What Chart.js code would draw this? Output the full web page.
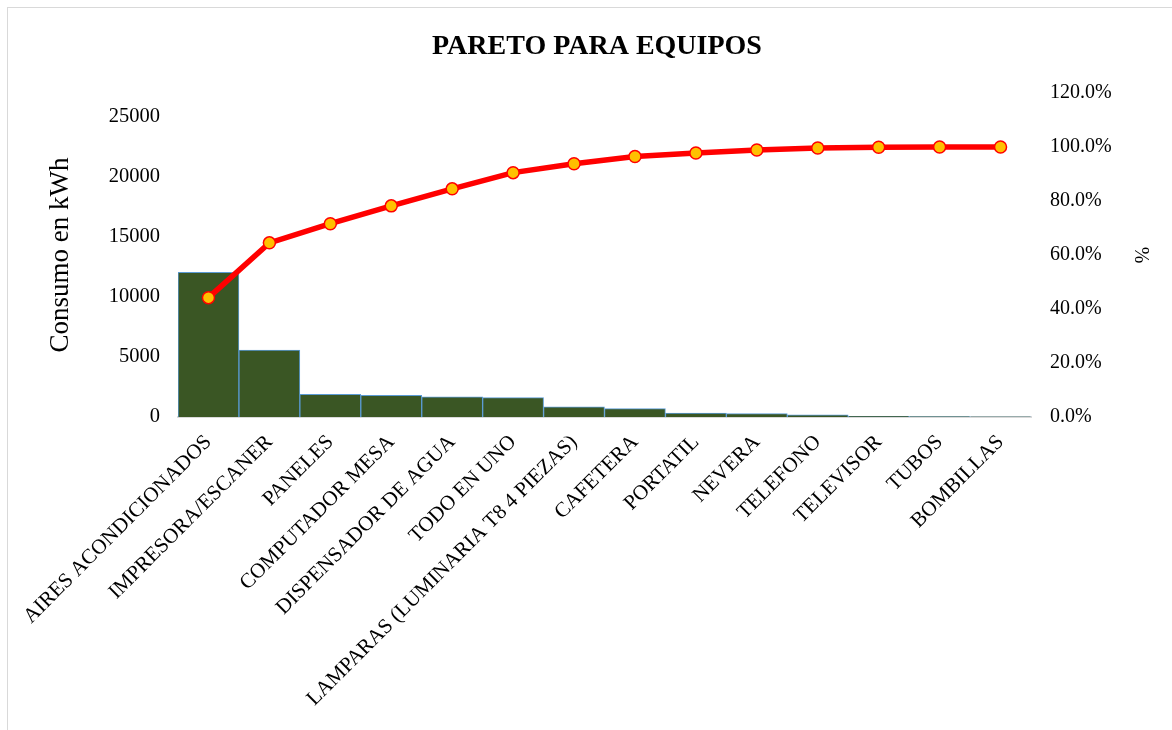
<!DOCTYPE html>
<html>
<head>
<meta charset="utf-8">
<script src="https://cdn.jsdelivr.net/npm/chart.js@4.4.1/dist/chart.umd.min.js"></script>
<style>
  html, body { margin: 0; padding: 0; background: #ffffff; overflow: hidden; }
  #wrap { position: relative; width: 1172px; height: 730px; overflow: hidden; }
  #frame { position: absolute; left: 7px; top: 7px; width: 1400px; height: 1000px;
           border: 1px solid #d9d9d9; box-sizing: border-box; }
  #c { position: absolute; left: 0; top: 0; }
</style>
</head>
<body>
<div id="wrap">
  <div id="frame"></div>
  <canvas id="c" width="1194" height="730"></canvas>
</div>
<script>
// Equipos ordenados de mayor a menor consumo
const categories = [
  'AIRES ACONDICIONADOS',
  'IMPRESORA/ESCANER',
  'PANELES',
  'COMPUTADOR MESA',
  'DISPENSADOR DE AGUA',
  'TODO EN UNO',
  'LAMPARAS (LUMINARIA T8 4 PIEZAS)',
  'CAFETERA',
  'PORTATIL',
  'NEVERA',
  'TELEFONO',
  'TELEVISOR',
  'TUBOS',
  'BOMBILLAS'
];

// Consumo en kWh por equipo
const consumoKWh = [12050, 5570, 1890, 1800, 1680, 1620, 850, 700, 320, 280, 180, 60, 30, 15];

// Porcentaje acumulado (fracción de 1)
const acumuladoPct = [0.442, 0.645, 0.716, 0.782, 0.845, 0.905, 0.938, 0.965, 0.978, 0.989, 0.996, 0.999, 1.0, 1.0];

// Marcas de los ejes
const leftTicks = [0, 5000, 10000, 15000, 20000, 25000];
const leftMax = 27000;
const rightTicks = [0, 0.2, 0.4, 0.6, 0.8, 1.0, 1.2];

const SERIF = '"Liberation Serif", "Times New Roman", serif';

new Chart(document.getElementById('c'), {
  data: {
    labels: categories,
    datasets: [
      {
        type: 'line',
        label: 'Acumulado',
        data: acumuladoPct,
        yAxisID: 'y1',
        order: 0,
        borderColor: '#ff0000',
        borderWidth: 5.5,
        tension: 0,
        pointRadius: 6,
        pointBorderWidth: 1.5,
        pointBackgroundColor: '#ffc000',
        pointBorderColor: '#ff0000',
        clip: false
      },
      {
        type: 'bar',
        label: 'Consumo',
        data: consumoKWh,
        yAxisID: 'y',
        order: 1,
        backgroundColor: '#3a5624',
        borderColor: '#5b9bd5',
        borderWidth: 1,
        categoryPercentage: 1.0,
        barPercentage: 1.0
      }
    ]
  },
  options: {
    responsive: false,
    animation: false,
    layout: { padding: 0 },
    plugins: {
      legend: { display: false },
      tooltip: { enabled: false },
      title: {
        display: true,
        text: 'PARETO PARA EQUIPOS',
        color: '#000000',
        font: { family: SERIF, size: 28, weight: 'bold' },
        padding: { top: 30.2, bottom: 29.2 }
      }
    },
    scales: {
      x: {
        offset: true,
        grid: { display: false, drawTicks: false },
        border: { display: true, color: '#d9d9d9', width: 2 },
        ticks: {
          autoSkip: false,
          maxRotation: 45,
          minRotation: 45,
          padding: 13,
          color: '#000000',
          font: { family: SERIF, size: 21 }
        },
        afterFit: (s) => { s.height = 313; }
      },
      y: {
        position: 'left',
        min: 0,
        max: leftMax,
        grid: { display: false, drawTicks: false },
        border: { display: false },
        afterBuildTicks: (s) => { s.ticks = leftTicks.map(v => ({ value: v })); },
        ticks: {
          padding: 18,
          color: '#000000',
          font: { family: SERIF, size: 20.5 },
          callback: (v) => String(v)
        },
        title: {
          display: true,
          text: 'Consumo en kWh',
          color: '#000000',
          font: { family: SERIF, size: 27 },
          padding: { top: 45, bottom: 0 }
        },
        afterFit: (s) => { s.width = 178; }
      },
      y1: {
        position: 'right',
        min: 0,
        max: 1.2,
        grid: { display: false, drawTicks: false },
        border: { display: false },
        afterBuildTicks: (s) => { s.ticks = rightTicks.map(v => ({ value: v })); },
        ticks: {
          padding: 19,
          color: '#000000',
          font: { family: SERIF, size: 20 },
          callback: (v) => (v * 100).toFixed(1) + '%'
        },
        title: {
          display: true,
          text: '%',
          color: '#000000',
          font: { family: SERIF, size: 20 },
          padding: { top: 42, bottom: 0 }
        },
        afterFit: (s) => { s.width = 163; }
      }
    }
  }
});
</script>
</body>
</html>
